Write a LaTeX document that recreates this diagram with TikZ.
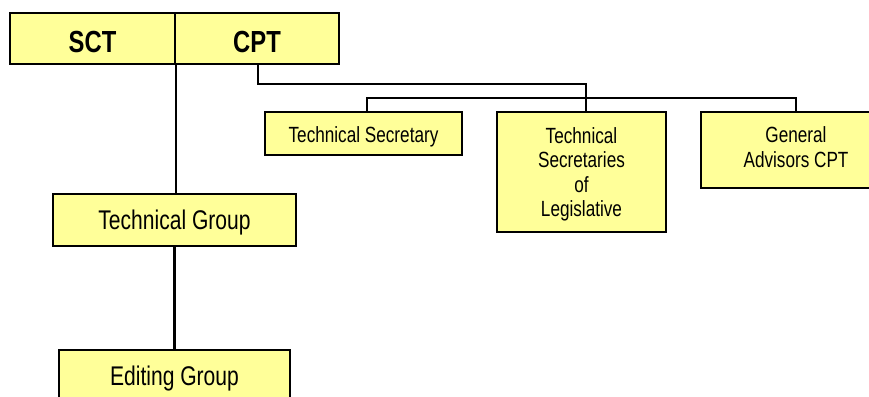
\documentclass[tikz,border=0pt]{standalone}
\usepackage{fontspec}
\setmainfont{Liberation Sans}[FakeStretch=0.78]
\definecolor{boxfill}{HTML}{FFFF99}
\begin{document}
\begin{tikzpicture}[x=1pt,y=-1pt,
  orgbox/.style={draw=black, fill=boxfill, line width=1.8pt, inner sep=0pt},
  conn/.style={draw=black, line width=2.2pt},
  lbl/.style={inner sep=0pt, text depth=0pt, align=center},
  bigtxt/.style={lbl, font=\fontsize{30.5}{36}\selectfont\bfseries},
  midtxt/.style={lbl, font=\fontsize{27}{30}\selectfont},
  smalltxt/.style={lbl, font=\fontsize{22}{24.5}\selectfont}]
\useasboundingbox (0,0) rectangle (869,396);
\clip (0,0) rectangle (869,396);
\node[orgbox, minimum width=165pt, minimum height=51pt,
  label={[bigtxt, yshift=-3pt]center:SCT}] (sct) at (92.5,38.5) {};
\node[orgbox, minimum width=164pt, minimum height=51pt,
  label={[bigtxt, yshift=-3pt]center:CPT}] (cpt) at (257,38.5) {};
\node[orgbox, minimum width=243pt, minimum height=52pt,
  label={[midtxt]center:Technical Group}] (tg) at (174.5,220) {};
\node[orgbox, minimum width=231pt, minimum height=52pt,
  label={[midtxt]center:Editing Group}] (eg) at (174.5,376) {};
\node[orgbox, minimum width=197pt, minimum height=43pt,
  label={[smalltxt, yshift=-1pt]center:Technical Secretary}] (ts) at (363.5,133.5) {};
\node[orgbox, minimum width=169pt, minimum height=120pt,
  label={[smalltxt]center:Technical\\Secretaries\\of\\Legislative}] (leg) at (581.5,172) {};
\node[orgbox, minimum width=190pt, minimum height=76pt,
  label={[smalltxt, yshift=3pt]center:General\\Advisors CPT}] (ga) at (796,150) {};
\draw[conn] (sct.south east) -- (sct.south east |- tg.north);
\draw[conn] (tg.south) -- (eg.north);
\draw[conn] ([xshift=1pt]cpt.south) -- ++(0,19) -| ([xshift=4.5pt]leg.north);
\draw[conn] ([xshift=3.5pt]ts.north) -- ++(0,-13) -| (ga.north);
\end{tikzpicture}
\end{document}
